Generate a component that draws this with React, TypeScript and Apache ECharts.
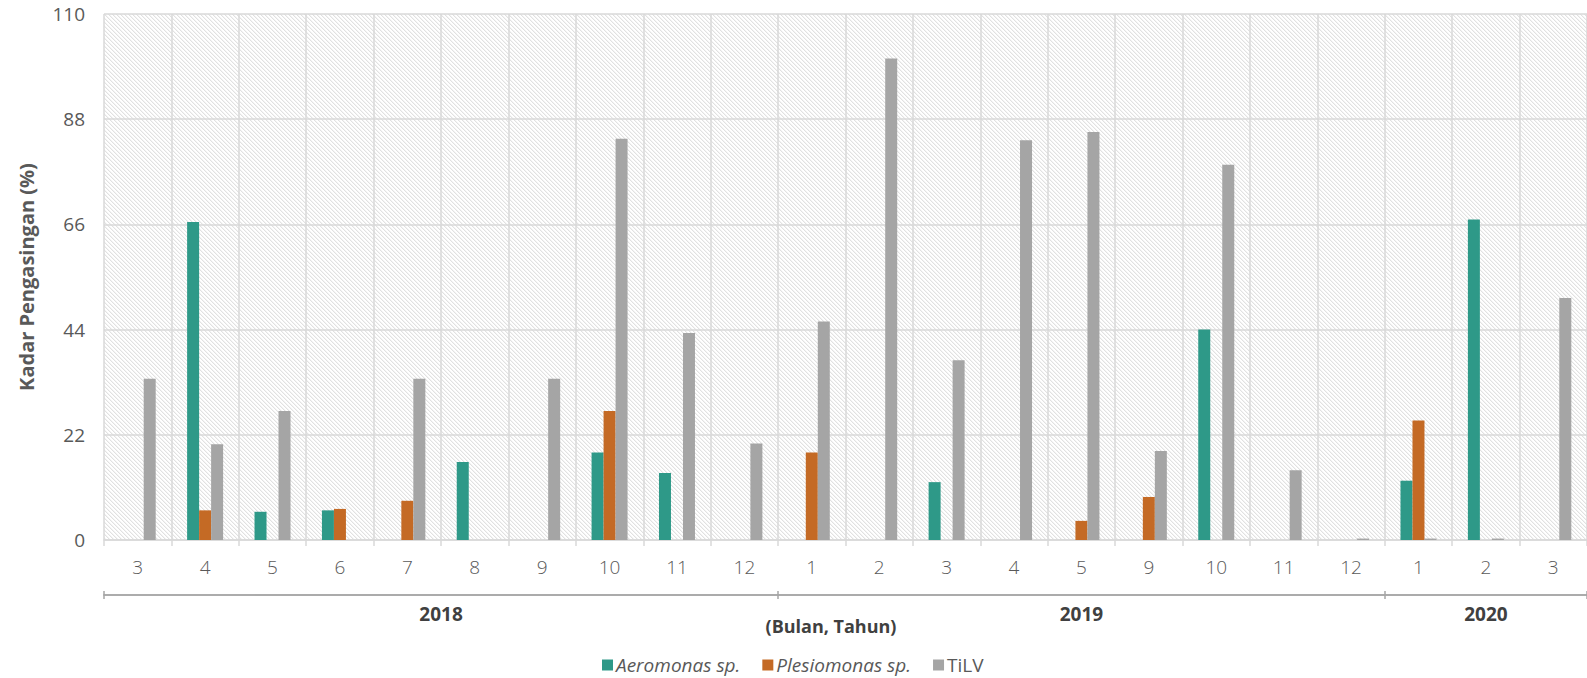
import React, { useEffect, useRef } from "react";
import * as echarts from "echarts";

// Month labels and the year each month belongs to
const months = ["3", "4", "5", "6", "7", "8", "9", "10", "11", "12", "1", "2", "3", "4", "5", "9", "10", "11", "12", "1", "2", "3"];
const years = [2018, 2018, 2018, 2018, 2018, 2018, 2018, 2018, 2018, 2018, 2019, 2019, 2019, 2019, 2019, 2019, 2019, 2019, 2019, 2020, 2020, 2020];

// Isolation rate (%) per month
const aeromonas = [null, 66.5, 5.9, 6.2, null, 16.3, null, 18.3, 14.0, null, null, null, 12.1, null, null, null, 44.0, null, null, 12.4, 67.0, null];
const plesiomonas = [null, 6.2, null, 6.5, 8.2, null, null, 27.0, null, null, 18.3, null, null, null, 4.0, 9.0, null, null, null, 25.0, null, null];
const tilv = [33.7, 20.0, 27.0, null, 33.7, null, 33.7, 83.9, 43.3, 20.2, 45.7, 100.7, 37.6, 83.6, 85.3, 18.6, 78.5, 14.6, 0.3, 0.3, 0.3, 50.6];

const yTicks = [0, 22, 44, 66, 88, 110];

const FONT = "'Open Sans', 'Noto Sans', sans-serif";
const GRID = { left: 104, top: 14, right: 0, bottom: 138 };

// 4x4 pixel tile with a diagonal stripe, used as the plot-area hatch
const HATCH_TILE =
  "url(\"data:image/svg+xml;utf8,<svg xmlns='http://www.w3.org/2000/svg' width='4' height='4' shape-rendering='crispEdges'>" +
  "<rect x='0' y='0' width='1' height='1' fill='%23e1e1e1'/>" +
  "<rect x='1' y='1' width='1' height='1' fill='%23e1e1e1'/>" +
  "<rect x='2' y='2' width='1' height='1' fill='%23e1e1e1'/>" +
  "<rect x='3' y='3' width='1' height='1' fill='%23e1e1e1'/>" +
  "<rect x='1' y='0' width='1' height='1' fill='%23f4f4f4'/>" +
  "<rect x='2' y='1' width='1' height='1' fill='%23f4f4f4'/>" +
  "<rect x='3' y='2' width='1' height='1' fill='%23f4f4f4'/>" +
  "<rect x='0' y='3' width='1' height='1' fill='%23f4f4f4'/>" +
  "</svg>\")";

// Year groups: boundaries and centres in category units
function yearGroups() {
  const groups: { year: number; start: number; end: number }[] = [];
  years.forEach((y, i) => {
    const last = groups[groups.length - 1];
    if (last && last.year === y) last.end = i + 1;
    else groups.push({ year: y, start: i, end: i + 1 });
  });
  return groups;
}

export default function App() {
  const ref = useRef<HTMLDivElement>(null);

  useEffect(() => {
    if (!ref.current) return;
    const chart = echarts.init(ref.current, null, { renderer: "svg" });
    const groups = yearGroups();
    const bounds = [0, ...groups.map((g) => g.end)];
    const centres = groups.map((g) => (g.start + g.end) / 2);
    const yearAt = (v: number) => {
      const g = groups.find((gr) => Math.abs((gr.start + gr.end) / 2 - v) < 1e-6);
      return g ? String(g.year) : "";
    };

    const bracketAxis = (inside: boolean, labels: boolean) => ({
      type: "value",
      position: "bottom",
      offset: 55,
      min: 0,
      max: months.length,
      axisLine: { show: true, lineStyle: { color: "#a6a6a6", width: 1.5 } },
      axisTick: {
        show: true,
        inside,
        length: 4,
        customValues: bounds,
        lineStyle: { color: "#a6a6a6", width: 1.5 },
      },
      axisLabel: {
        show: labels,
        customValues: centres,
        formatter: (v: number) => yearAt(v),
        color: "#404040",
        fontFamily: FONT,
        fontWeight: "bold",
        fontSize: 19,
        margin: 9,
      },
      splitLine: { show: false },
    });

    const barSeries = (name: string, data: (number | null)[], color: string) => ({
      name,
      type: "bar",
      data,
      barWidth: 12,
      barGap: "0%",
      itemStyle: { color },
      xAxisIndex: 0,
    });

    chart.setOption({
      animation: false,
      backgroundColor: "transparent",
      grid: GRID,
      xAxis: [
        {
          type: "category",
          data: months,
          boundaryGap: true,
          axisLine: { show: true, lineStyle: { color: "#d9d9d9", width: 1.5 } },
          axisTick: { show: true, length: 6, lineStyle: { color: "#d9d9d9", width: 1.5 } },
          axisLabel: {
            interval: 0,
            color: "#595959",
            fontFamily: FONT,
            fontWeight: 300,
            fontSize: 19,
            margin: 17,
          },
          splitLine: { show: true, interval: 0, lineStyle: { color: "#d9d9d9", width: 1.5 } },
        },
        bracketAxis(false, true),
        bracketAxis(true, false),
      ],
      yAxis: {
        type: "value",
        min: 0,
        max: yTicks[yTicks.length - 1],
        interval: yTicks[1] - yTicks[0],
        name: "Kadar Pengasingan (%)",
        nameLocation: "middle",
        nameGap: 68,
        nameTextStyle: { color: "#595959", fontFamily: FONT, fontWeight: "bold", fontSize: 20 },
        axisLine: { show: false },
        axisTick: { show: false },
        axisLabel: { color: "#595959", fontFamily: FONT, fontSize: 19, margin: 19 },
        splitLine: { show: true, lineStyle: { color: "#d9d9d9", width: 1.5 } },
      },
      legend: {
        left: 602,
        top: 654,
        padding: 0,
        icon: "rect",
        itemWidth: 11,
        itemHeight: 11,
        itemGap: 22,
        textStyle: {
          color: "#595959",
          fontFamily: FONT,
          fontSize: 19,
          lineHeight: 22,
          padding: [0, 0, 0, -2],
          rich: {
            it: { fontStyle: "italic", color: "#595959", fontFamily: FONT, fontSize: 19, lineHeight: 22 },
          },
        },
        formatter: (name: string) => (name === "TiLV" ? name : `{it|${name}}`),
        data: ["Aeromonas sp.", "Plesiomonas sp.", "TiLV"],
      },
      graphic: [
        {
          type: "text",
          x: 831,
          y: 626,
          style: {
            text: "(Bulan, Tahun)",
            fill: "#404040",
            font: `bold 18px ${FONT}`,
            textAlign: "center",
            textVerticalAlign: "middle",
          },
        },
      ],
      series: [
        barSeries("Aeromonas sp.", aeromonas, "#2e9988"),
        barSeries("Plesiomonas sp.", plesiomonas, "#c46a25"),
        barSeries("TiLV", tilv, "#a5a5a5"),
      ],
    });

    return () => chart.dispose();
  }, []);

  return (
    <div style={{ position: "absolute", left: 0, top: 0, width: 1587, height: 678, background: "#ffffff" }}>
      <div
        style={{
          position: "absolute",
          left: GRID.left,
          top: GRID.top,
          width: 1587 - GRID.left - GRID.right,
          height: 678 - GRID.top - GRID.bottom,
          backgroundImage: HATCH_TILE,
          backgroundSize: "4px 4px",
          backgroundRepeat: "repeat",
        }}
      />
      <div ref={ref} style={{ position: "absolute", left: 0, top: 0, width: 1587, height: 678 }} />
    </div>
  );
}
